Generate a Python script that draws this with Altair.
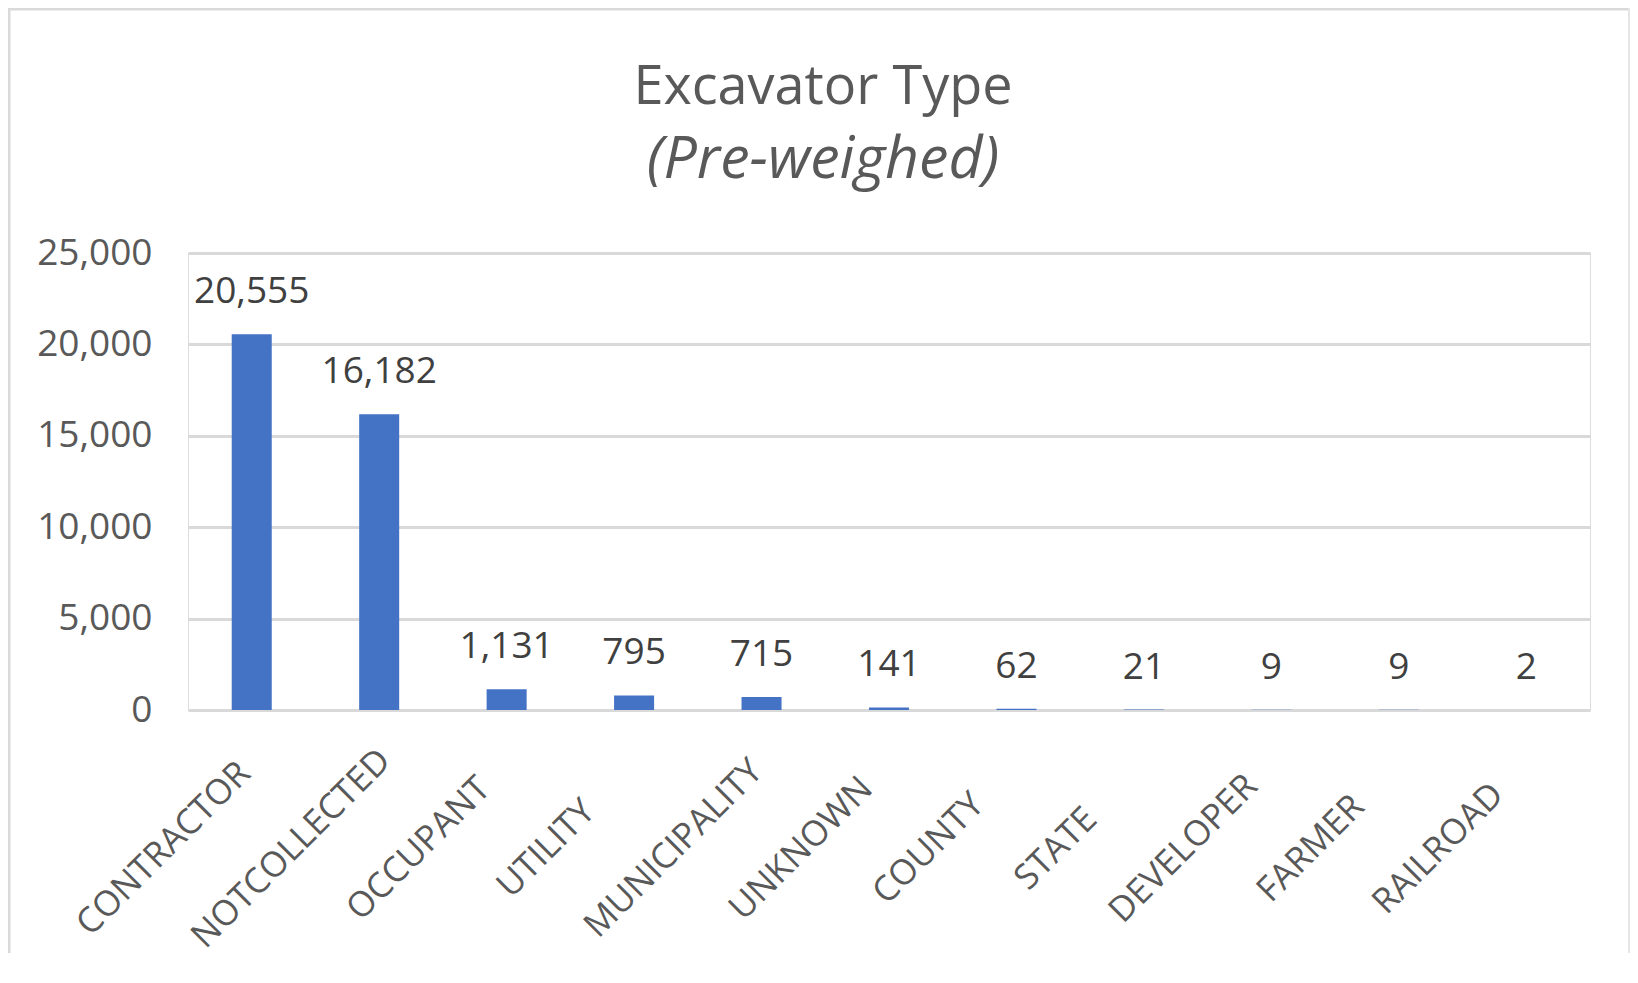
import altair as alt
import pandas as pd

categories = ["CONTRACTOR", "NOTCOLLECTED", "OCCUPANT", "UTILITY", "MUNICIPALITY",
              "UNKNOWN", "COUNTY", "STATE", "DEVELOPER", "FARMER", "RAILROAD"]
counts = [20555, 16182, 1131, 795, 715, 141, 62, 21, 9, 9, 2]
y_ticks = [0, 5000, 10000, 15000, 20000, 25000]

df = pd.DataFrame({"type": categories, "count": counts})

FONT = "Open Sans"
GRAY = "#595959"

x_enc = alt.X(
    "type:N",
    sort=categories,
    scale=alt.Scale(paddingInner=0.686, paddingOuter=0.343),
    axis=alt.Axis(
        title=None, ticks=False, domain=False, grid=False,
        labelAngle=315, labelAlign="center", labelBaseline="middle",
        labelOffset=-88, labelPadding=138, labelFontSize=35,
        labelColor=GRAY, labelFont=FONT, labelLimit=0, labelOverlap=False,
    ),
)
y_enc = alt.Y(
    "count:Q",
    scale=alt.Scale(domain=[0, 25000], nice=False),
    axis=alt.Axis(
        title=None, values=y_ticks, format=",.0f", ticks=False, domain=False,
        labelFontSize=37, labelColor=GRAY, labelFont=FONT, labelPadding=36,
        gridColor="#d9d9d9", gridWidth=3,
    ),
)

base = alt.Chart(df).encode(x=x_enc, y=y_enc)

bars = base.mark_bar(color="#4472C4")

labels = base.mark_text(
    baseline="alphabetic", dy=-31, fontSize=37, font=FONT, color="#404040"
).encode(text=alt.Text("count:Q", format=","))

frame_df = pd.DataFrame({"k": [0]})
left_line = alt.Chart(frame_df).mark_rule(color="#d9d9d9", strokeWidth=3).encode(
    x=alt.value(-179), y=alt.value(-245), y2=alt.value(700)
)
top_line = alt.Chart(frame_df).mark_rule(color="#d9d9d9", strokeWidth=3).encode(
    x=alt.value(-180), x2=alt.value(1442), y=alt.value(-244)
)
right_line = alt.Chart(frame_df).mark_rule(color="#e6e6e6", strokeWidth=2).encode(
    x=alt.value(1441), y=alt.value(-245), y2=alt.value(700)
)

chart = alt.layer(left_line, top_line, right_line, bars, labels).properties(
    width=1402,
    height=457,
    autosize=alt.AutoSizeParams(type="none"),
    padding={"left": 180, "top": 245, "right": 40, "bottom": 243},
    title=alt.Title(
        text="Excavator Type",
        subtitle="(Pre-weighed)",
        anchor="middle",
        dx=-66,
        dy=228,
        offset=45,
        font=FONT, fontSize=54, fontWeight="normal", color=GRAY,
        subtitleFont=FONT, subtitleFontSize=59, subtitleFontStyle="italic",
        subtitleColor=GRAY, subtitlePadding=16,
    ),
).configure_view(stroke=None).configure(background="white")

chart.save("out.html", embed_options={"renderer": "svg", "actions": False})
